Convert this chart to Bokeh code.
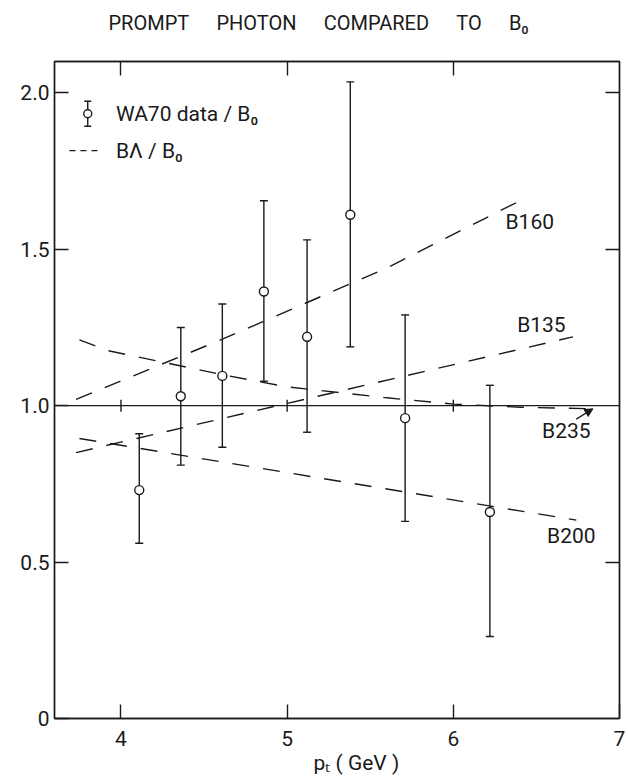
from bokeh.plotting import figure
from bokeh.models import (Range1d, LinearAxis, FixedTicker, Whisker, TeeHead,
                          ColumnDataSource, Label, Arrow, NormalHead, Span, Title)
from bokeh.embed import file_html
from bokeh.resources import INLINE

# WA70 prompt-photon data divided by the B0 prediction
pt = [4.11, 4.36, 4.61, 4.86, 5.12, 5.38, 5.71, 6.22]
ratio = [0.73, 1.03, 1.095, 1.365, 1.22, 1.61, 0.96, 0.66]
ratio_hi = [0.91, 1.25, 1.325, 1.655, 1.53, 2.035, 1.29, 1.065]
ratio_lo = [0.56, 0.81, 0.867, 1.078, 0.915, 1.188, 0.63, 0.262]

# B-Lambda / B0 curves
b160_x = [3.73, 4.60, 5.60, 6.42]
b160_y = [1.02, 1.21, 1.44, 1.66]
b135_x = [3.73, 6.72]
b135_y = [0.85, 1.22]
b200_x = [3.75, 6.74]
b200_y = [0.895, 0.634]
b235_x = [3.75, 3.92, 4.60, 5.00, 5.60, 6.00, 6.40, 6.84]
b235_y = [1.21, 1.176, 1.10, 1.06, 1.025, 1.005, 0.995, 0.99]

curve_names = ["B160", "B135", "B235", "B200"]

x_ticks = [4, 5, 6, 7]
x_tick_labels = ["4", "5", "6", "7"]
y_ticks = [0, 0.5, 1.0, 1.5, 2.0]
y_tick_labels = ["0", "0.5", "1.0", "1.5", "2.0"]
inner_x_ticks = [4, 5, 6]
right_y_ticks = [0.5, 1.5, 2.0]

FONT = "Roboto"
INK = "#1a1a1a"
LW = 1.4
DASH = "17 14"
SP = "\u2003\u2004"

p = figure(width=628, height=777, x_range=Range1d(3.6, 7.0), y_range=Range1d(0, 2.1),
           output_backend="svg", toolbar_location=None,
           min_border_left=54, min_border_right=9, min_border_top=61, min_border_bottom=59)
p.xgrid.visible = False
p.ygrid.visible = False
p.outline_line_color = INK
p.outline_line_width = LW
p.background_fill_color = "white"
p.border_fill_color = "white"


def style_axis(ax, ticks, labels):
    ax.ticker = FixedTicker(ticks=ticks)
    ax.major_label_overrides = {t: s for t, s in zip(ticks, labels)}
    ax.major_tick_in = 14
    ax.major_tick_out = 0
    ax.minor_tick_line_color = None
    ax.axis_line_color = INK
    ax.axis_line_width = LW
    ax.major_tick_line_color = INK
    ax.major_tick_line_width = LW
    ax.major_label_text_font = FONT
    ax.major_label_text_font_size = "21px"
    ax.major_label_text_color = INK


style_axis(p.xaxis[0], x_ticks, x_tick_labels)
p.xaxis[0].major_label_standoff = 12
style_axis(p.yaxis[0], y_ticks, y_tick_labels)
p.yaxis[0].major_label_standoff = 5

# top axis: inward ticks only; a blank caption keeps a gap between frame and title
top_axis = LinearAxis(axis_label=" ")
style_axis(top_axis, inner_x_ticks, [""] * len(inner_x_ticks))
top_axis.major_label_standoff = 0
top_axis.major_label_text_font_size = "1px"
top_axis.axis_label_text_font_size = "12px"
top_axis.axis_label_standoff = 3
p.add_layout(top_axis, "above")

right_axis = LinearAxis()
style_axis(right_axis, right_y_ticks, [""] * len(right_y_ticks))
right_axis.major_label_standoff = 0
right_axis.major_label_text_font_size = "1px"
p.add_layout(right_axis, "right")

# title above the frame
p.add_layout(Title(text=SP.join(["PROMPT", "PHOTON", "COMPARED", "TO", "B₀"]),
                   align="left", offset=54, standoff=14,
                   text_font=FONT, text_font_size="20px", text_font_style="normal",
                   text_color=INK),
             "above")

# x-axis caption
p.add_layout(Title(text="pₜ ( GeV )", align="left", offset=259, standoff=0,
                   text_font=FONT, text_font_size="21px", text_font_style="normal",
                   text_color=INK), "below")

# unit reference line with small cross ticks
p.add_layout(Span(location=1.0, dimension="width", line_color=INK, line_width=LW))
p.scatter(inner_x_ticks, [1.0] * len(inner_x_ticks), marker="dash", angle=1.5708,
          size=12, line_color=INK, line_width=LW)

# theory curves
for xs, ys in [(b160_x, b160_y), (b135_x, b135_y), (b200_x, b200_y), (b235_x, b235_y)]:
    p.line(xs, ys, line_color=INK, line_width=LW, line_dash=DASH)

# data with error bars
src = ColumnDataSource(dict(x=pt, y=ratio, hi=ratio_hi, lo=ratio_lo))
p.add_layout(Whisker(base="x", upper="hi", lower="lo", source=src,
                     line_color=INK, line_width=LW,
                     upper_head=TeeHead(size=8, line_color=INK, line_width=LW),
                     lower_head=TeeHead(size=8, line_color=INK, line_width=LW)))
p.scatter("x", "y", source=src, marker="circle", size=9, fill_color="white",
          line_color=INK, line_width=LW)

# curve labels
label_pos = {"B160": (6.46, 1.586), "B135": (6.53, 1.259),
             "B235": (6.68, 0.92), "B200": (6.71, 0.583)}
for name in curve_names:
    lx, ly = label_pos[name]
    p.add_layout(Label(x=lx, y=ly, text=name, text_font=FONT, text_font_size="21px",
                       text_align="center", text_baseline="middle", text_color=INK))

# arrow tying the B235 label to its curve
p.add_layout(Arrow(x_start=6.74, y_start=0.957, x_end=6.84, y_end=0.99,
                   line_color=INK, line_width=LW,
                   end=NormalHead(size=8, fill_color=INK, line_color=INK)))

# legend
leg_x, leg_text_x = 3.80, 3.97
leg_y1, leg_y2 = 1.933, 1.815
leg_src = ColumnDataSource(dict(x=[leg_x], y=[leg_y1], hi=[leg_y1 + 0.04], lo=[leg_y1 - 0.04]))
p.add_layout(Whisker(base="x", upper="hi", lower="lo", source=leg_src,
                     line_color=INK, line_width=LW,
                     upper_head=TeeHead(size=7, line_color=INK, line_width=LW),
                     lower_head=TeeHead(size=7, line_color=INK, line_width=LW)))
p.scatter("x", "y", source=leg_src, marker="circle", size=8, fill_color="white",
          line_color=INK, line_width=LW)
p.line([3.69, 3.88], [leg_y2, leg_y2], line_color=INK, line_width=LW, line_dash="6 5")
p.add_layout(Label(x=leg_text_x, y=leg_y1, text="WA70  data / B₀", text_font=FONT,
                   text_font_size="21px", text_baseline="middle", text_color=INK))
p.add_layout(Label(x=leg_text_x, y=leg_y2, text="BΛ / B₀", text_font=FONT,
                   text_font_size="21px", text_baseline="middle", text_color=INK))

open("out.html", "w").write(file_html(p, INLINE))
